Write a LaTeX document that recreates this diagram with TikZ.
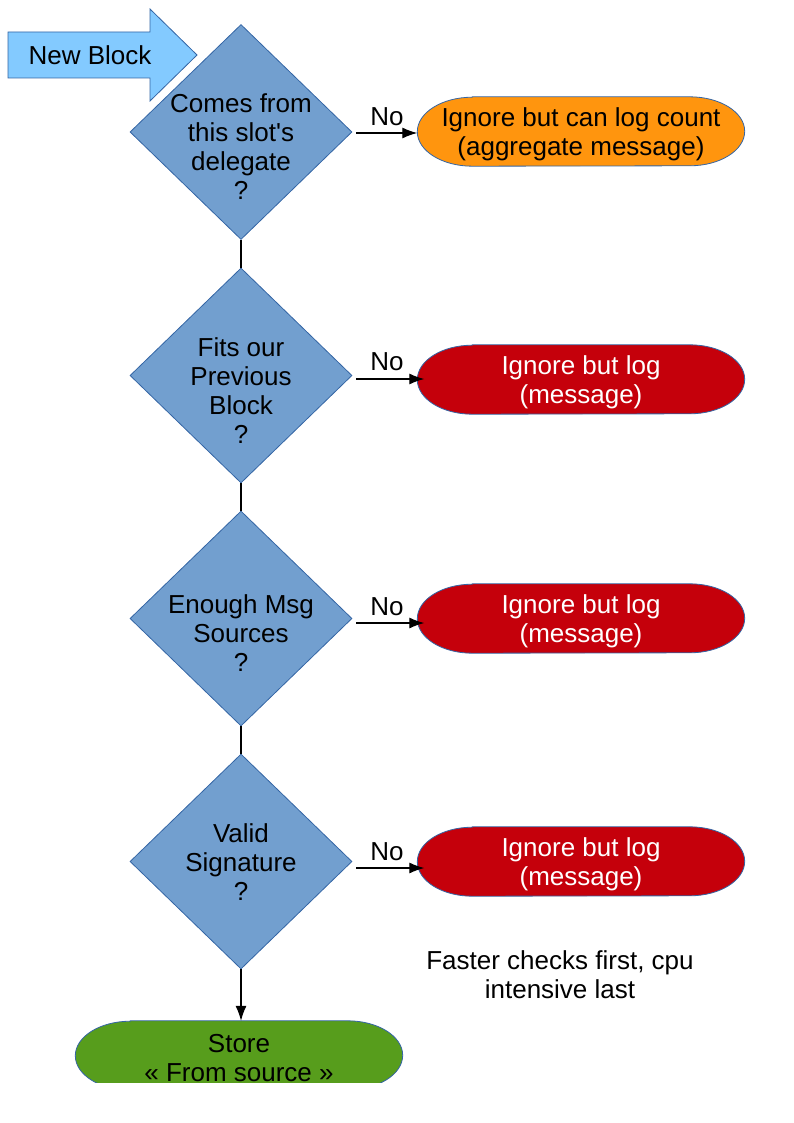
\documentclass[tikz,border=0pt]{standalone}
\usepackage{fontspec}
\setmainfont{Liberation Sans}
\usetikzlibrary{shapes.geometric,arrows.meta,backgrounds}
\definecolor{dfill}{HTML}{729FCF}
\definecolor{dline}{HTML}{3465A4}
\definecolor{orng}{HTML}{FF950E}
\definecolor{dred}{HTML}{C5000B}
\definecolor{grn}{HTML}{579D1C}
\definecolor{lblue}{HTML}{83CAFF}
\newcommand\termshape[2]{%
  \begin{scope}[on background layer]
  \draw[draw=dline,fill=#2,line width=0.8pt]
    ([xshift=55pt]#1.north west) -- ([xshift=-55pt]#1.north east)
    arc[start angle=90,end angle=-90,x radius=55pt,y radius=34.5pt]
    -- ([xshift=55pt]#1.south west)
    arc[start angle=270,end angle=90,x radius=55pt,y radius=34.5pt] -- cycle;
  \end{scope}}
\begin{document}
\begin{tikzpicture}[x=1pt,y=-1pt,font=\fontsize{26}{28.8}\selectfont,
  dia/.style={diamond,draw=dline,fill=dfill,line width=0.8pt,minimum width=222pt,minimum height=215pt,inner sep=0pt},
  txt/.style={align=center,inner sep=0pt},
  term/.style={rectangle,minimum width=327pt,minimum height=69pt,inner sep=0pt},
  conn/.style={line width=1.1pt,black},
  arr/.style={conn,-{Latex[length=15pt,width=11pt]}}]
\useasboundingbox (0,0) rectangle (794,1123);
% start arrow
\draw[draw=dline,fill=lblue,line width=0.8pt] (8,32) -- (150,32) -- (150,9) -- (197,55) -- (150,101) -- (150,78) -- (8,78) -- cycle;
\node[txt] (nb) at (90,55) {New Block};
% diamonds
\node[dia] (d1) at (241,132) {};
\node[dia] (d2) at (241,375.5) {};
\node[dia] (d3) at (241,618.5) {};
\node[dia] (d4) at (241,861.5) {};
\node[txt] (q1) at (241,146.5) {Comes from\\this slot\textquotesingle s\\delegate\\?};
\node[txt] (q2) at (241,390.5) {Fits our\\Previous\\Block\\?};
\node[txt] (q3) at (241,633) {Enough Msg\\Sources\\?};
\node[txt] (q4) at (241,862) {Valid\\Signature\\?};
% terminators
\node[term] (t1) at (581,131.5) {};
\termshape{t1}{orng}
\node[txt] (l1) at (581,134.5) {Ignore but can log count\\(aggregate message)};
\node[term] (t2) at (581,379.5) {};
\termshape{t2}{dred}
\node[txt,text=white] (l2) at (581,382.5) {Ignore but log\\(message)};
\node[term] (t3) at (581,618.5) {};
\termshape{t3}{dred}
\node[txt,text=white] (l3) at (581,621.5) {Ignore but log\\(message)};
\node[term] (t4) at (581,861.5) {};
\termshape{t4}{dred}
\node[txt,text=white] (l4) at (581,864.5) {Ignore but log\\(message)};
\node[term] (t5) at (239,1055.5) {};
\begin{scope}[on background layer]
\clip (0,0) rectangle (794,1082);
\draw[draw=dline,fill=grn,line width=0.8pt]
    ([xshift=55pt]t5.north west) -- ([xshift=-55pt]t5.north east)
    arc[start angle=90,end angle=-90,x radius=55pt,y radius=34.5pt]
    -- ([xshift=55pt]t5.south west)
    arc[start angle=270,end angle=90,x radius=55pt,y radius=34.5pt] -- cycle;
\end{scope}
\node[txt] (l5) at (239,1058) {Store\\« From source »};
% connectors
\draw[conn] (d1.south) -- (d2.north);
\draw[conn] (d2.south) -- (d3.north);
\draw[conn] (d3.south) -- (d4.north);
\draw[arr] (d4.south) -- (d4.south |- t5.north);
\coordinate (n1) at (356,133);
\coordinate (n2) at (356,379);
\coordinate (n3) at (356,623);
\coordinate (n4) at (356,868);
\draw[arr] (n1) -- (n1 -| t1.west);
\draw[arr] (n2) -- ([xshift=7pt]n2 -| t2.west);
\draw[arr] (n3) -- ([xshift=7pt]n3 -| t3.west);
\draw[arr] (n4) -- ([xshift=7pt]n4 -| t4.west);
\node[txt] (no1) at (387,117) {No};
\node[txt] (no2) at (387,362) {No};
\node[txt] (no3) at (387,607) {No};
\node[txt] (no4) at (387,852) {No};
\node[txt] (note) at (560,975) {Faster checks first, cpu\\intensive last};
\end{tikzpicture}
\end{document}
